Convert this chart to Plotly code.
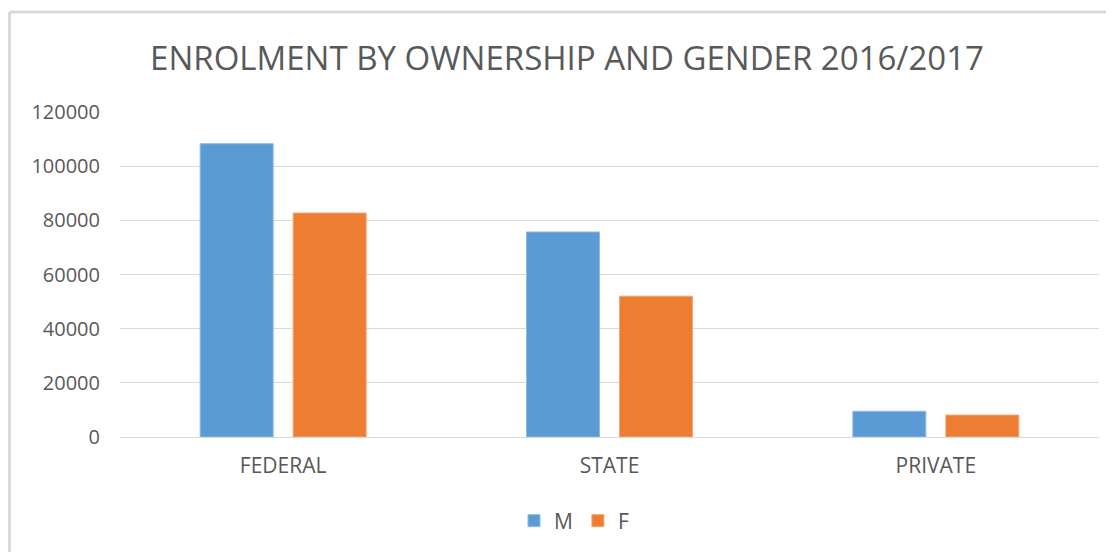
import plotly.graph_objects as go

categories = ["FEDERAL", "STATE", "PRIVATE"]
male = [108300, 75700, 9500]
female = [82700, 52000, 8100]
series_names = ["M", "F"]
y_ticks = [0, 20000, 40000, 60000, 80000, 100000, 120000]

# page has 8px body margin; the figure is sized to fit the window
OFF = 8
W, H = 1114 - OFF, 552 - OFF
L, R, T, B = 112, 15, 104, 115
PW, PH = W - L - R, H - T - B


def px_x(px):
    return (px - OFF - L) / PW


def px_y(py):
    return (H - B - (py - OFF)) / PH


FONT = "Open Sans"
GREY = "#595959"

fig = go.Figure()
fig.add_trace(go.Bar(x=categories, y=male, name=series_names[0],
                     marker=dict(color="#5b9bd5", line=dict(color="#8fbbe3", width=1))))
fig.add_trace(go.Bar(x=categories, y=female, name=series_names[1],
                     marker=dict(color="#ed7d31", line=dict(color="#f3a673", width=1))))

fig.update_layout(
    width=W, height=H,
    margin=dict(l=L, r=R, t=T, b=B, autoexpand=False),
    paper_bgcolor="white", plot_bgcolor="white",
    barmode="group", bargap=0.43, bargroupgap=0.215,
    title=dict(text="ENROLMENT BY OWNERSHIP AND GENDER 2016/2017",
               x=(567 - OFF) / W, xanchor="center", xref="container",
               y=1 - (58 - OFF) / H, yanchor="middle",
               font=dict(family=FONT, size=33, color=GREY)),
    font=dict(family=FONT, color=GREY),
    showlegend=True,
    legend=dict(orientation="h", x=px_x(574), xanchor="center", xref="paper",
                y=px_y(521), yanchor="middle",
                font=dict(family=FONT, size=21, color=GREY),
                itemwidth=30, traceorder="normal"),
    xaxis=dict(showgrid=False, showline=False, ticks="",
               tickfont=dict(family=FONT, size=21, color=GREY),
               ticklabelstandoff=14),
    yaxis=dict(range=[0, 120000], tickvals=y_ticks,
               ticktext=[str(v) for v in y_ticks],
               showgrid=True, gridcolor="#d9d9d9", gridwidth=1,
               zeroline=True, zerolinecolor="#d9d9d9", zerolinewidth=1,
               showline=False, ticks="",
               tickfont=dict(family=FONT, size=20, color=GREY),
               ticklabelstandoff=19),
    shapes=[
        dict(type="line", xref="paper", yref="paper",
             x0=px_x(9.5), x1=px_x(1120), y0=px_y(12), y1=px_y(12),
             line=dict(color="#d9d9d9", width=3)),
        dict(type="line", xref="paper", yref="paper",
             x0=px_x(9.5), x1=px_x(9.5), y0=px_y(12), y1=px_y(560),
             line=dict(color="#d9d9d9", width=3)),
    ],
)

fig.write_html("out.html")
